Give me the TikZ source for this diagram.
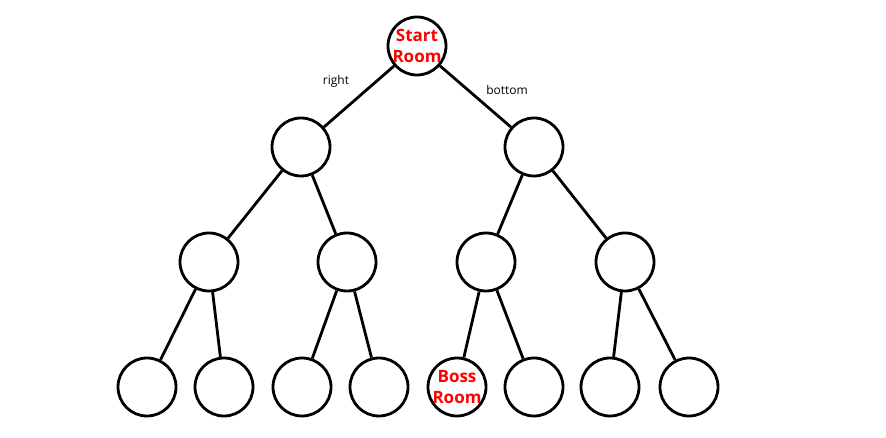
\documentclass[tikz,border=0pt]{standalone}
\usepackage{fontspec}
\setmainfont{Open Sans}[BoldFont={* Bold}]
\begin{document}
\begin{tikzpicture}[x=1pt,y=-1pt,
  room/.style={circle,draw=black,line width=2.8pt,minimum size=58pt,inner sep=0pt,fill=white},
  rl/.style={font=\bfseries\fontsize{17}{21}\selectfont,text=red,align=center},
  edge/.style={line width=2.8pt},
  lab/.style={font=\fontsize{12}{12}\selectfont}]
\useasboundingbox (0,0) rectangle (886,438);
\node[room] (r) at (417,46) {};
\node[room] (a) at (301,147) {};
\node[room] (b) at (534,147) {};
\node[room] (a1) at (209,262) {};
\node[room] (a2) at (347,262) {};
\node[room] (b1) at (486,262) {};
\node[room] (b2) at (625,262) {};
\node[room] (l1) at (147,387) {};
\node[room] (l2) at (224,387) {};
\node[room] (l3) at (302,387) {};
\node[room] (l4) at (379,387) {};
\node[room] (l5) at (457,387) {};
\node[room] (l6) at (534,387) {};
\node[room] (l7) at (610,387) {};
\node[room] (l8) at (689,387) {};
\foreach \p/\c in {r/a,r/b,a/a1,a/a2,b/b1,b/b2,a1/l1,a1/l2,a2/l3,a2/l4,b1/l5,b1/l6,b2/l7,b2/l8}
  \draw[edge] (\p) -- (\c);
\node[rl] (rt) at (r) {Start\\Room};
\node[rl] (bt) at (l5) {Boss\\Room};
\node[lab] (lr) at (336,81) {right};
\node[lab] (lb) at (507,90) {bottom};
\end{tikzpicture}
\end{document}
